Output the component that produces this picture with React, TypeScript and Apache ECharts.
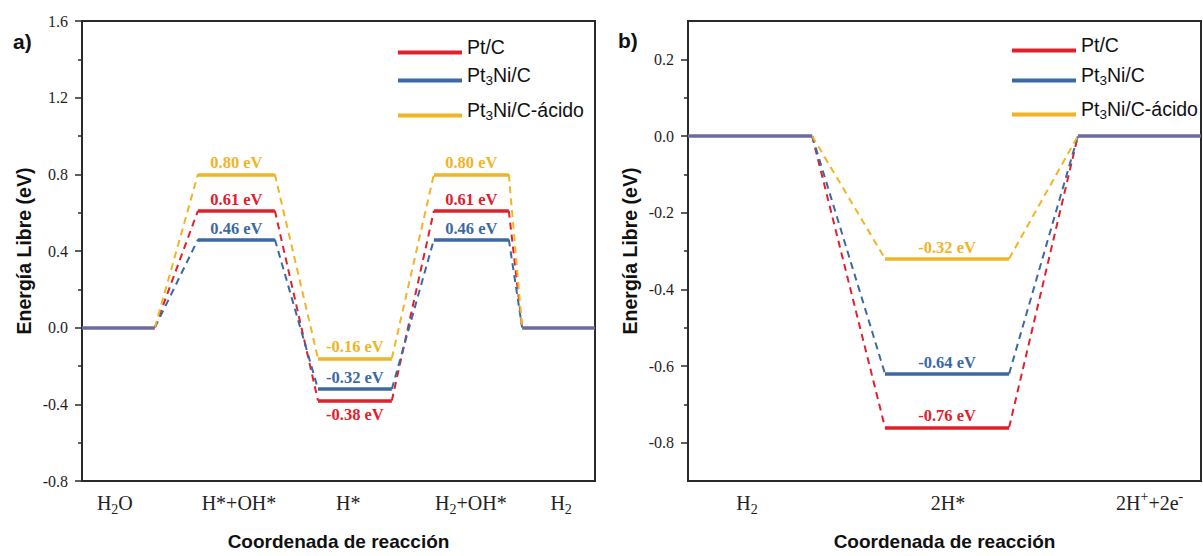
import React, { useEffect, useRef } from "react";
import * as echarts from "echarts";

// ---------- data ----------
const CATALYSTS = ["Pt/C", "Pt3Ni/C", "Pt3Ni/C-ácido"];
const CATALYST_RICH = ["Pt/C", "Pt{s|3}Ni/C", "Pt{s|3}Ni/C-ácido"];

// panel a) – water dissociation path
const STATES_A = ["H{s|2}O", "H*+OH*", "H*", "H{s|2}+OH*", "H{s|2}"];
const PTC_A = [0, 0.61, -0.38, 0.61, 0];
const PT3NI_A = [0, 0.46, -0.32, 0.46, 0];
const ACID_A = [0, 0.8, -0.16, 0.8, 0];
const Y_TICKS_A = [-0.8, -0.4, 0, 0.4, 0.8, 1.2, 1.6];

// panel b) – hydrogen oxidation path
const STATES_B = ["H{s|2}", "2H*", "2H{p|+}+2e{p|-}"];
const PTC_B = [0, -0.76, 0];
const PT3NI_B = [0, -0.62, 0];
const ACID_B = [0, -0.32, 0];
const PTC_B_TEXT = ["", "-0.76 eV", ""];
const PT3NI_B_TEXT = ["", "-0.64 eV", ""];
const ACID_B_TEXT = ["", "-0.32 eV", ""];
const Y_TICKS_B = [-0.8, -0.6, -0.4, -0.2, 0, 0.2];

// ---------- layout / style ----------
const COLORS = ["#e2202c", "#3b69a2", "#f1b424"];
const SHARED_COLOR = "#6c6a9e";
const SERIF = "Liberation Serif";
const SANS = "Liberation Sans";
const AXIS_COLOR = "#2a2a2a";

const SPANS_A = [[0, 14.2], [22.6, 37.6], [46, 60.4], [68.6, 83.2], [85.8, 100]];
const LABEL_X_A = [6.4, 30.6, 51.9, 75.8, 93.4];
const SPANS_B = [[0, 24.2], [38.4, 62.6], [76, 100]];
const LABEL_X_B = [11.5, 50.7, 90];

const GRID_A = { left: 82, top: 21, width: 513, height: 466 };
const GRID_B = { left: 688, top: 21, width: 513, height: 466 };

const fmtEv = (v: number) => `${v.toFixed(2)} eV`;

function midpoints(t: number[]) {
  const r: number[] = [];
  for (let i = 0; i < t.length - 1; i++) r.push(Math.round(((t[i] + t[i + 1]) / 2) * 100) / 100);
  return r;
}

function panelSeries(
  gi: number,
  values: number[][],
  texts: string[][],
  spans: number[][],
  below: (c: number, i: number) => boolean
) {
  const series: any[] = [];
  const n = spans.length;
  const shared = spans.map((_, i) => values.every((v) => v[i] === values[0][i]));
  values.forEach((vals, c) => {
    const levels: any[] = [];
    const conns: any[] = [];
    for (let i = 0; i < n; i++) {
      if (!shared[i]) {
        const isBelow = below(c, i);
        levels.push({
          coords: [
            [spans[i][0], vals[i]],
            [spans[i][1], vals[i]],
          ],
          label: {
            show: !!texts[c][i],
            formatter: texts[c][i],
            position: isBelow ? "insideMiddleBottom" : "insideMiddleTop",
            distance: isBelow ? 5 : 3,
          },
        });
      }
      if (i < n - 1) {
        conns.push({
          coords: [
            [spans[i][1], vals[i]],
            [spans[i + 1][0], vals[i + 1]],
          ],
        });
      }
    }
    series.push({
      type: "lines",
      name: CATALYSTS[c],
      coordinateSystem: "cartesian2d",
      xAxisIndex: gi,
      yAxisIndex: gi * 2,
      polyline: false,
      silent: true,
      z: 2,
      data: conns,
      lineStyle: { color: COLORS[c], width: 2, type: [7, 5], opacity: 1, curveness: 0 },
    });
    series.push({
      type: "lines",
      name: CATALYSTS[c],
      coordinateSystem: "cartesian2d",
      xAxisIndex: gi,
      yAxisIndex: gi * 2,
      polyline: false,
      silent: true,
      z: 3,
      data: levels,
      lineStyle: { color: COLORS[c], width: 3.5, opacity: 1, curveness: 0 },
      label: {
        show: true,
        color: COLORS[c],
        fontFamily: SERIF,
        fontWeight: "bold",
        fontSize: 16.5,
      },
    });
  });
  const sharedData: any[] = [];
  for (let i = 0; i < n; i++) {
    if (shared[i]) {
      sharedData.push({
        coords: [
          [spans[i][0], values[0][i]],
          [spans[i][1], values[0][i]],
        ],
      });
    }
  }
  series.push({
    type: "lines",
    name: "shared",
    coordinateSystem: "cartesian2d",
    xAxisIndex: gi,
    yAxisIndex: gi * 2,
    polyline: false,
    silent: true,
    z: 4,
    data: sharedData,
    lineStyle: { color: SHARED_COLOR, width: 3.5, opacity: 1, curveness: 0 },
  });
  return series;
}

const catRich = {
  s: { fontFamily: SERIF, fontSize: 14, color: "#222", verticalAlign: "bottom" },
  p: { fontFamily: SERIF, fontSize: 14, color: "#222", verticalAlign: "top" },
};

function xAxis(gi: number, labelX: number[], states: string[]) {
  return {
    type: "value",
    gridIndex: gi,
    min: 0,
    max: 100,
    axisLine: { show: true, onZero: false, lineStyle: { color: AXIS_COLOR, width: 2 } },
    axisTick: { show: false },
    splitLine: { show: false },
    axisLabel: {
      customValues: labelX,
      formatter: (v: number) => {
        const k = labelX.findIndex((x) => Math.abs(x - v) < 1e-6);
        return k >= 0 ? states[k] : "";
      },
      fontFamily: SERIF,
      fontSize: 20,
      lineHeight: 27,
      color: "#222",
      margin: 8,
      rich: catRich,
    },
    name: "Coordenada de reacción",
    nameLocation: "middle",
    nameGap: 51,
    nameTextStyle: { fontFamily: SANS, fontWeight: "bold", fontSize: 19, color: "#111" },
  };
}

function yAxes(gi: number, min: number, max: number, ticks: number[]) {
  return [
    {
      type: "value",
      gridIndex: gi,
      min,
      max,
      axisLine: { show: true, onZero: false, lineStyle: { color: AXIS_COLOR, width: 2 } },
      axisTick: { show: true, customValues: ticks, length: 7, lineStyle: { color: AXIS_COLOR, width: 1.5 } },
      splitLine: { show: false },
      axisLabel: {
        customValues: ticks,
        formatter: (v: number) => v.toFixed(1),
        fontFamily: SERIF,
        fontSize: 16,
        color: "#1e1e1e",
        margin: 14,
      },
      name: "Energía Libre (eV)",
      nameLocation: "middle",
      nameGap: 48,
      nameTextStyle: { fontFamily: SANS, fontWeight: "bold", fontSize: 19.5, color: "#111" },
    },
    {
      type: "value",
      gridIndex: gi,
      min,
      max,
      position: "left",
      axisLine: { show: false, onZero: false },
      axisTick: { show: true, customValues: midpoints(ticks), length: 4, lineStyle: { color: AXIS_COLOR, width: 1.5 } },
      splitLine: { show: false },
      axisLabel: { show: false },
    },
  ];
}

function legends(left: number, centers: number[]) {
  return CATALYSTS.map((name, c) => ({
    left,
    top: centers[c] - 18,
    padding: 0,
    orient: "vertical",
    icon: "rect",
    itemWidth: 64,
    itemHeight: 4,
    selectedMode: false,
    data: [{ name, itemStyle: { color: COLORS[c], borderWidth: 0 } }],
    formatter: () => CATALYST_RICH[c],
    textStyle: {
      fontFamily: SANS,
      fontSize: 19.5,
      lineHeight: 25,
      color: "#111",
      padding: [0, 0, 12, 0],
      rich: {
        s: { fontFamily: SANS, fontSize: 13.5, color: "#111", verticalAlign: "bottom" },
      },
    },
  }));
}

export default function App() {
  const ref = useRef<HTMLDivElement>(null);
  useEffect(() => {
    if (!ref.current) return;
    const chart = echarts.init(ref.current, undefined, { renderer: "svg" });
    const textsA = [PTC_A, PT3NI_A, ACID_A].map((vals) => vals.map((v) => (v === 0 ? "" : fmtEv(v))));
    const seriesA = panelSeries(
      0,
      [PTC_A, PT3NI_A, ACID_A],
      textsA,
      SPANS_A,
      (c, i) => c === 0 && PTC_A[i] < 0
    );
    const seriesB = panelSeries(
      1,
      [PTC_B, PT3NI_B, ACID_B],
      [PTC_B_TEXT, PT3NI_B_TEXT, ACID_B_TEXT],
      SPANS_B,
      () => false
    );
    const option: any = {
      animation: false,
      backgroundColor: "#ffffff",
      grid: [
        { ...GRID_A, show: true, borderColor: AXIS_COLOR, borderWidth: 2, containLabel: false },
        { ...GRID_B, show: true, borderColor: AXIS_COLOR, borderWidth: 2, containLabel: false },
      ],
      xAxis: [xAxis(0, LABEL_X_A, STATES_A), xAxis(1, LABEL_X_B, STATES_B)],
      yAxis: [...yAxes(0, -0.8, 1.6, Y_TICKS_A), ...yAxes(1, -0.9, 0.3, Y_TICKS_B)],
      legend: [...legends(398, [52, 80, 115]), ...legends(1012, [50, 80, 114])],
      graphic: [
        { type: "text", left: 13, top: 31, style: { text: "a)", font: `bold 21px "${SANS}"`, fill: "#111" } },
        { type: "text", left: 618, top: 30, style: { text: "b)", font: `bold 21px "${SANS}"`, fill: "#111" } },
      ],
      series: [...seriesA, ...seriesB],
    };
    chart.setOption(option);
    return () => chart.dispose();
  }, []);
  return (
    <div
      ref={ref}
      style={{ position: "absolute", left: 0, top: 0, width: 1203, height: 556, background: "#fff" }}
    />
  );
}
